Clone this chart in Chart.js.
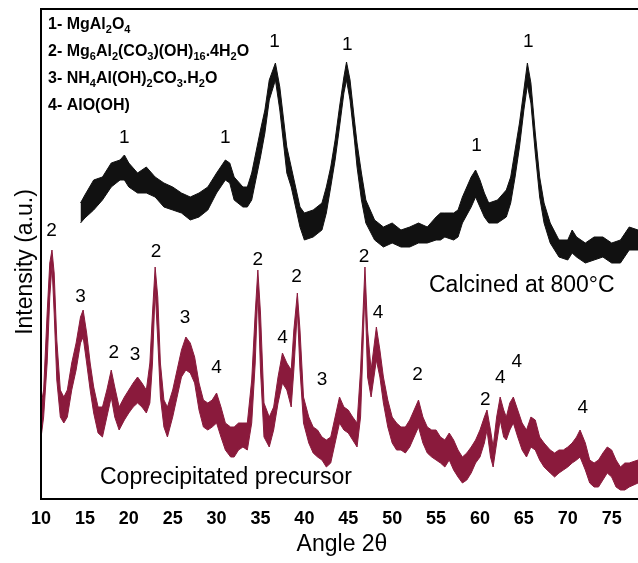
<!DOCTYPE html>
<html>
<head>
<meta charset="utf-8">
<script src="https://cdn.jsdelivr.net/npm/chart.js@4/dist/chart.umd.min.js"></script>
<style>
  html, body { margin: 0; padding: 0; background: #fff; overflow: hidden; }
  #wrap { width: 638px; height: 563px; }
</style>
</head>
<body>
<div id="wrap"><canvas id="xrd" width="638" height="563"></canvas></div>
<script>
// Calcined at 800 C : upper and lower edge of the noisy trace (a.u.)
const calcAngle = [14.5,15,16,17,18,19,19.5,20,21,22, 23,24,25,26,27,28,29,30,31,31.5,
  32,33,33.5,34,35,35.5,36,36.7,37.2,38, 38.5,39,39.5,40,41,42,42.5,43,43.5,44,
  44.5,44.8,45.2,45.7,46,46.5,47,48,49,50, 51,52,53,54,55,55.5,56,57,57.5,58,
  59,59.5,60,60.5,61,62,63,63.5,64,64.5, 65,65.4,65.8,66.3,66.8,67.3,68,69,70,70.5,
  71,72,73,74,75,76,77,78];
const calcTop = [297,305,320,323,337,340,345,337,327,333, 323,317,313,307,303,307,313,327,340,337,
  323,313,313,327,370,390,420,437,413,353, 333,313,293,287,290,297,313,333,360,393,
  423,438,420,380,357,327,300,280,273,277, 270,273,277,273,283,287,287,287,290,303,
  323,330,320,307,297,300,310,323,350,377, 410,437,417,367,323,297,277,260,260,270,
  263,257,263,263,257,260,273,270];
const calcBottom = [277,282,290,300,313,320,320,313,307,307, 303,293,290,287,280,283,290,307,320,317,
  300,293,293,300,343,367,400,420,390,327, 313,293,273,260,263,270,287,313,340,373,
  407,420,400,360,333,300,277,260,253,257, 253,253,257,257,260,260,263,260,263,277,
  293,303,293,283,277,277,283,297,323,353, 390,415,397,347,303,277,257,243,240,247,
  243,237,240,243,237,237,250,250];

// Coprecipitated precursor
const precAngle = [9.9,10.3,10.7,11.0,11.25,11.5,11.8,12.2,12.6,13.0,
  13.5,14.0,14.5,14.8,15.2,15.6,16.0,16.5,17.0,17.5,
  18.0,18.4,18.9,19.5,20.0,20.5,21.0,21.5,22.0,22.4,
  22.7,23.0,23.3,23.6,24.0,24.4,25.0,25.5,26.0,26.5,
  27.0,27.5,28.0,28.5,29.0,29.5,30.0,30.5,31.0,31.6,
  32.0,32.5,33.0,33.5,34.0,34.4,34.7,35.0,35.4,36.0,
  36.5,37.0,37.5,38.0,38.5,38.8,39.2,39.5,39.9,40.5,
  41.0,41.5,42.0,42.5,43.0,43.5,44.0,44.5,45.0,45.5,
  46.0,46.4,46.9,47.2,47.6,48.2,48.6,49.0,49.5,50.0,
  50.5,51.0,51.5,52.0,52.5,53.0,53.5,54.0,54.5,55.0,
  55.5,56.0,56.5,57.0,57.5,58.0,58.5,59.0,59.5,60.0,
  60.5,60.8,61.2,61.5,61.9,62.3,62.7,63.0,63.4,63.8,
  64.3,64.8,65.3,65.8,66.3,66.8,67.3,68.0,68.5,69.0,
  69.5,70.0,70.5,71.0,71.4,72.0,72.5,73.0,73.5,74.0,
  74.5,75.0,75.5,76.0,76.5,77.0,78.0];
const precTop = [90,110,187,237,250,227,160,110,103,110,
  137,157,183,190,167,137,113,93,93,110,
  130,113,93,103,110,117,123,117,110,137,
  187,233,203,137,100,93,110,130,150,163,
  157,143,117,100,97,100,107,93,77,73,
  73,77,77,77,120,187,230,187,97,83,
  93,123,147,137,130,170,207,170,103,83,
  73,70,63,60,63,83,103,93,90,83,
  77,130,233,170,130,173,150,123,100,83,
  77,73,73,80,90,100,83,73,70,70,
  63,60,67,60,50,43,47,53,60,70,
  83,90,70,53,83,103,90,83,97,103,
  90,77,70,83,80,63,57,50,47,50,
  50,53,57,63,70,57,40,37,40,47,
  53,50,40,33,37,37,40];
const precBottom = [55,83,137,203,235,187,120,83,77,83,
  110,130,157,163,137,110,87,67,63,83,
  103,83,70,80,87,93,97,93,87,97,
  137,210,160,103,73,63,83,103,123,130,
  127,117,90,73,70,73,77,63,50,43,
  43,50,53,50,77,137,210,130,63,53,
  70,97,117,110,93,130,190,130,77,57,
  47,43,40,33,37,57,77,70,67,60,
  53,83,210,123,103,140,123,97,73,57,
  50,50,47,53,63,73,57,47,43,40,
  37,33,40,30,23,17,20,27,37,43,
  57,70,43,33,57,80,63,60,70,77,
  63,50,43,53,50,40,33,27,23,27,
  30,33,37,40,43,30,17,13,13,20,
  27,23,13,10,10,13,17];

const tickStep = 5;
const legendLines = ['1- MgAl_2O_4', '2- Mg_6Al_2(CO_3)(OH)_16.4H_2O', '3- NH_4Al(OH)_2CO_3.H_2O', '4- AlO(OH)'];

// phase marks: [angle, intensity, phase number]
const calcMarks = [[19.5, 362, '1'], [31.0, 362, '1'], [36.6, 458, '1'], [44.9, 455, '1'], [59.6, 354, '1'], [65.5, 458, '1']];
const precMarks = [[11.2, 269, '2'], [14.5, 203, '3'], [18.3, 147, '2'], [20.7, 145, '3'], [23.1, 248, '2'], [26.4, 182, '3'],
  [30.0, 132, '4'], [34.7, 240, '2'], [37.5, 162, '4'], [39.1, 223, '2'], [42.0, 120, '3'], [46.8, 243, '2'],
  [48.4, 187, '4'], [52.9, 125, '2'], [60.6, 100, '2'], [62.3, 122, '4'], [64.2, 138, '4'], [71.7, 92, '4']];

const black = '#111111';
const maroon = '#8a1a3c';
const sans = '"Liberation Sans", Arial, sans-serif';

function toPoints(xs, ys) {
    return xs.map((x, i) => ({ x: x, y: ys[i] }));
}

function band(label, xs, ys, color, fill) {
    return {
        label: label,
        data: toPoints(xs, ys),
        borderColor: color,
        backgroundColor: color,
        borderWidth: 1,
        pointRadius: 0,
        tension: 0,
        fill: fill
    };
}

// draws text where _12 means a subscript number
function drawFormula(ctx, str, x, y) {
    const parts = str.split(/_(\d+)/);
    parts.forEach((part, i) => {
        if (i % 2 === 0) {
            ctx.font = 'bold 16px ' + sans;
            ctx.fillText(part, x, y);
        } else {
            ctx.font = 'bold 11px ' + sans;
            ctx.fillText(part, x, y + 4);
        }
        x += ctx.measureText(part).width;
    });
}

const annotations = {
    id: 'annotations',
    afterDatasetsDraw(chart) {
        const ctx = chart.ctx;
        const area = chart.chartArea;
        const xs = chart.scales.x;
        const ys = chart.scales.y;
        ctx.save();

        // frame (the right side is cut off in the figure)
        ctx.strokeStyle = '#000';
        ctx.lineWidth = 2;
        ctx.beginPath();
        ctx.moveTo(area.right + 2, area.top);
        ctx.lineTo(area.left, area.top);
        ctx.lineTo(area.left, area.bottom);
        ctx.lineTo(area.right + 2, area.bottom);
        ctx.stroke();

        ctx.fillStyle = '#000';
        ctx.textAlign = 'left';
        ctx.textBaseline = 'alphabetic';
        legendLines.forEach((line, i) => drawFormula(ctx, line, 48, 29 + i * 27));

        ctx.font = '19px ' + sans;
        ctx.textAlign = 'center';
        ctx.textBaseline = 'middle';
        calcMarks.concat(precMarks).forEach(m => {
            ctx.fillText(m[2], xs.getPixelForValue(m[0]), ys.getPixelForValue(m[1]));
        });

        ctx.font = '23px ' + sans;
        ctx.textAlign = 'left';
        ctx.fillText('Calcined at 800\u00B0C', 429, 286);
        ctx.fillText('Coprecipitated precursor', 100, 478);

        ctx.textAlign = 'center';
        ctx.fillText('Angle 2\u03B8', 342, 545);

        ctx.translate(26, 262);
        ctx.rotate(-Math.PI / 2);
        ctx.fillText('Intensity (a.u.)', 0, 0);
        ctx.restore();
    }
};

const ctx = document.getElementById('xrd').getContext('2d');
const chart = new Chart(ctx, {
    type: 'line',
    data: {
        datasets: [
            band('calcined top', calcAngle, calcTop, black, false),
            band('calcined bottom', calcAngle, calcBottom, black, '-1'),
            band('precursor top', precAngle, precTop, maroon, false),
            band('precursor bottom', precAngle, precBottom, maroon, '-1')
        ]
    },
    options: {
        responsive: false,
        animation: false,
        layout: { padding: { top: 9, left: 0, right: 0, bottom: 0 } },
        plugins: { legend: { display: false }, tooltip: { enabled: false } },
        scales: {
            x: {
                type: 'linear',
                min: 10,
                max: 78,
                grid: { display: false },
                border: { display: false },
                ticks: {
                    stepSize: tickStep,
                    includeBounds: false,
                    autoSkip: false,
                    maxRotation: 0,
                    padding: 1,
                    color: '#000',
                    font: { family: sans, size: 18, weight: 'bold' }
                },
                afterFit(scale) { scale.height = 64; }
            },
            y: {
                min: 1,
                max: 491,
                grid: { display: false },
                border: { display: false },
                ticks: { display: false },
                afterFit(scale) { scale.width = 41; }
            }
        }
    },
    plugins: [annotations]
});
</script>
</body>
</html>
